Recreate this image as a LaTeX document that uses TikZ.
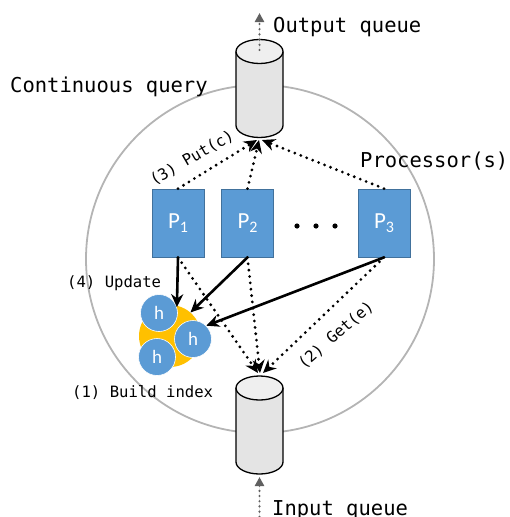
\documentclass[tikz,border=0pt]{standalone}
\usepackage{fontspec}
\setmonofont{DejaVu Sans Mono}
\newfontfamily\boxfont{Carlito}
\usetikzlibrary{arrows.meta}
\definecolor{procblue}{HTML}{5B9BD5}
\definecolor{procedge}{HTML}{41719C}
\definecolor{idxorange}{HTML}{FFC000}
\definecolor{ringgray}{HTML}{B4B4B4}
\definecolor{queuefill}{HTML}{E4E4E4}
\definecolor{queuetop}{HTML}{EFEFEF}
\definecolor{feedgray}{HTML}{606060}

\begin{document}
\begin{tikzpicture}[x=1pt,y=-1pt,
  proc/.style={draw=procedge, line width=0.8pt, fill=procblue, minimum width=52pt,
    minimum height=68pt, inner sep=0pt, text=white, font=\boxfont\fontsize{23}{23}\selectfont},
  hnode/.style={circle, fill=procblue, draw=white, line width=0.6pt, minimum size=37pt,
    inner sep=0pt, text=white, font=\boxfont\fontsize{19}{19}\selectfont},
  bigtext/.style={font=\ttfamily\fontsize{20.5}{24}\selectfont, inner sep=0pt},
  smalltext/.style={font=\ttfamily\fontsize{15.6}{18}\selectfont, inner sep=0pt},
  solidarrow/.style={-{Stealth[length=13pt,width=12pt]}, line width=2.6pt},
  dotarrow/.style={-{Stealth[length=13pt,width=12pt]}, line width=3.1pt, line cap=round,
    dash pattern=on 0pt off 6.4pt},
  feedarrow/.style={-{Triangle[length=9pt,width=9pt]}, draw=feedgray, fill=feedgray,
    line width=2.4pt, line cap=round, dash pattern=on 0pt off 5.2pt},
  queue/.pic={
    \fill[queuefill] (-23.5,0) rectangle (23.5,74);
    \fill[queuefill] (0,74) ellipse[x radius=23.5, y radius=12];
    \draw[line width=1.3pt] (-23.5,0) -- (-23.5,74)
      arc[start angle=180, end angle=0, x radius=23.5, y radius=12] -- (23.5,0);
    \draw[line width=1.3pt, fill=queuetop] (0,0) ellipse[x radius=23.5, y radius=12];
  },
]
\useasboundingbox (0,0) rectangle (509,517);

% the continuous query ring
\draw[ringgray, line width=1.8pt] (260,259) circle[radius=174];

% output and input queues
\pic at (259.5,51.5) {queue};
\pic at (259.5,388) {queue};
\coordinate (outbase) at (259,140);
\coordinate (outfrom) at (259.5,50);
\coordinate (outtip) at (259.5,13);
\coordinate (intop) at (260,373);
\coordinate (infrom) at (259.5,522);
\coordinate (intip) at (259.5,477);
\draw[feedarrow] (outfrom) -- (outtip);
\draw[feedarrow] (infrom) -- (intip);

% processors
\node[proc] (P1) at (178,223) {P\raisebox{-4pt}{\fontsize{16}{16}\selectfont 1}};
\node[proc] (P2) at (247.5,223) {P\raisebox{-4pt}{\fontsize{16}{16}\selectfont 2}};
\node[proc] (P3) at (384,223) {P\raisebox{-4pt}{\fontsize{16}{16}\selectfont 3}};
\foreach \dx in {297,316,335} \fill (\dx,226) circle[radius=2.6];

% index
\node[circle, fill=idxorange, minimum size=62pt, inner sep=0pt] (idx) at (170,336) {};
\node[hnode] (h1) at (159,313) {h};
\node[hnode] (h2) at (193,339) {h};
\node[hnode] (h3) at (157,357) {h};

% put results
\draw[dotarrow] (P1.north) -- ([xshift=-2pt]outbase);
\draw[dotarrow] (P2.north) -- (outbase);
\draw[dotarrow] (P3.north) -- ([xshift=3pt]outbase);

% get events
\draw[dotarrow] (P1.south) -- ([xshift=-2pt]intop);
\draw[dotarrow] (P2.south) -- (intop);
\draw[dotarrow] (P3.south) -- ([xshift=3pt]intop);

% index updates
\draw[solidarrow] (P1.south) -- (h1.18);
\draw[solidarrow] (P2.south) -- (idx.49);
\draw[solidarrow] (P3.south) -- (h2.45);

% labels
\node[bigtext, anchor=base west] (cq) at (10,92) {Continuous query};
\node[bigtext, anchor=base west] (outlabel) at (273,32) {Output queue};
\node[bigtext, anchor=base west] (proclabel) at (360,167) {Processor(s)};
\node[bigtext, anchor=base west] (inlabel) at (272,515) {Input queue};
\node[smalltext, anchor=base west] (upd) at (67,287) {(4) Update};
\node[smalltext, anchor=base west] (bld) at (72,397) {(1) Build index};
\node[smalltext, rotate=30] (put) at (192,158) {(3) Put(c)};
\node[smalltext, rotate=41] (get) at (336,335) {(2) Get(e)};
\end{tikzpicture}
\end{document}
